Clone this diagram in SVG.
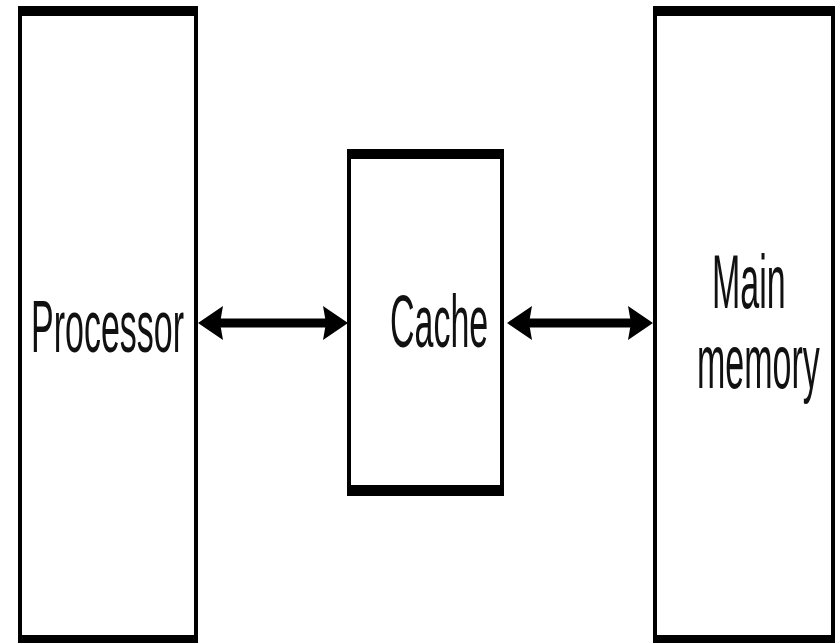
<svg xmlns="http://www.w3.org/2000/svg" width="836" height="643" viewBox="0 0 836 643">
  <style>
    .frame { fill: #000; }
    .inner { fill: #fff; }
    .label { font-family: "Liberation Sans", Arial, sans-serif; font-size: 34px; fill: #111; }
    .link { stroke: #000; stroke-width: 9; fill: none; marker-start: url(#head); marker-end: url(#head); }
  </style>
  <defs>
    <marker id="head" markerUnits="userSpaceOnUse" markerWidth="28" markerHeight="36" viewBox="0 0 28 36" refX="6" refY="18" orient="auto-start-reverse">
      <path d="M0,1 L25,18 L0,35 L3,18 Z" fill="#000"/>
    </marker>
  </defs>
  <rect width="836" height="643" fill="#fff"/>

  <!-- processor block: heavy top/bottom rules, lighter sides -->
  <g id="processor">
    <rect class="frame" x="18" y="6" width="180" height="640"/>
    <rect class="inner" x="22" y="16" width="172" height="619"/>
    <text class="label" transform="translate(31,352) scale(1,2.2)">Processor</text>
  </g>

  <!-- cache block -->
  <g id="cache">
    <rect class="frame" x="347" y="149" width="157" height="347"/>
    <rect class="inner" x="351" y="159" width="149" height="326"/>
    <text class="label" transform="translate(390,347) scale(1,2.2)">Cache</text>
  </g>

  <!-- main memory block -->
  <g id="main-memory">
    <rect class="frame" x="653" y="6" width="182" height="640"/>
    <rect class="inner" x="657" y="16" width="174" height="619"/>
    <text class="label" transform="translate(712,308) scale(1,2.25)">Main</text>
    <text class="label" transform="translate(697,388) scale(1,2.25)">memory</text>
  </g>

  <!-- bidirectional links -->
  <g id="connectors">
    <line class="link" x1="217" y1="323" x2="329" y2="323"/>
    <line class="link" x1="526" y1="323" x2="634" y2="323"/>
  </g>
</svg>
